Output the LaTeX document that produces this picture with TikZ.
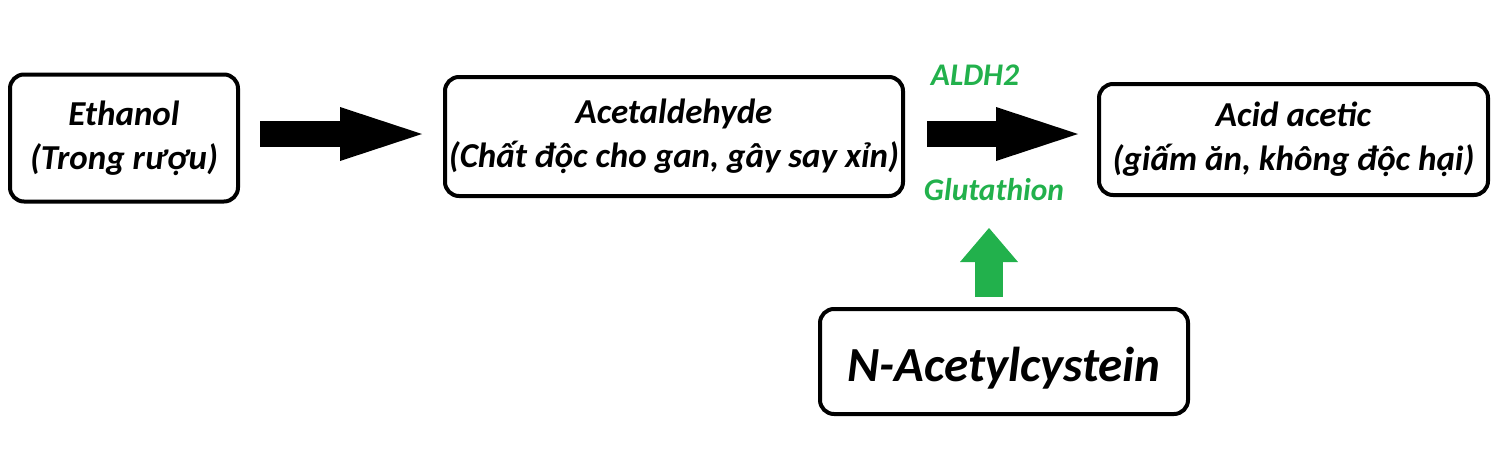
\documentclass[tikz,border=0pt]{standalone}
\usepackage{fontspec}
\setmainfont{Carlito}
\usetikzlibrary{arrows.meta}
\definecolor{paintgreen}{RGB}{34,177,76}
\tikzset{
  box/.style={draw,rounded corners=14pt,line width=4pt,align=center,inner sep=0pt,
    font=\fontsize{35}{44}\selectfont\bfseries\itshape},
  lbl/.style={text=paintgreen,inner sep=0pt,font=\fontsize{31.5}{34}\selectfont\bfseries\itshape},
  blk/.style={line width=26pt,-{Triangle[length=82pt,width=54pt,line width=0pt]}},
  gblk/.style={paintgreen,line width=28pt,-{Triangle[length=34pt,width=58pt,line width=0pt]}},
}
\begin{document}
\begin{tikzpicture}[x=1pt,y=-1pt]
  \useasboundingbox (0,0) rectangle (1504,474);
  \node[box,minimum width=228pt,minimum height=127pt] (eth) at (124,138) {Ethanol\\(Trong rượu)};
  \node[box,minimum width=458pt,minimum height=119pt] (acet) at (674,136.5) {Acetaldehyde\\(Chất độc cho gan, gây say xỉn)};
  \node[box,minimum width=389pt,minimum height=111pt] (acid) at (1293.5,139.5) {Acid acetic\\(giấm ăn, không độc hại)};
  \node[box,minimum width=368pt,minimum height=105pt,text height=50pt,text depth=10pt,
    font=\fontsize{49}{56}\selectfont\bfseries\itshape] (nac) at (1004,361.5) {N-Acetylcystein};
  \node[lbl] (aldh) at (975,75) {ALDH2};
  \node[lbl] (glu) at (994,190) {Glutathion};
  \coordinate (gtip) at (989,228);

  \draw[blk,shorten <=20pt,shorten >=21pt] ([yshift=4pt]eth.east) -- ([yshift=2.5pt]acet.west);
  \draw[blk,shorten <=22pt,shorten >=19pt] ([yshift=2.5pt]acet.east) -- ([yshift=5.5pt]acid.west);
  \draw[gblk] ([xshift=-15pt,yshift=10pt]nac.north) -- (gtip);
\end{tikzpicture}
\end{document}
